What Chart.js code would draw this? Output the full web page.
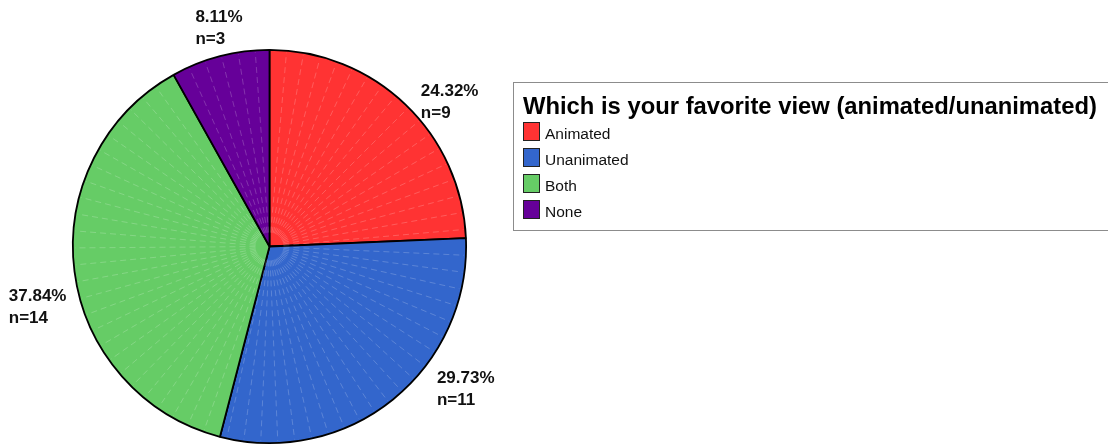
<!DOCTYPE html>
<html lang="en">
<head>
    <meta charset="UTF-8">
    <title>Which is your favorite view (animated/unanimated)</title>
    <script src="https://cdn.jsdelivr.net/npm/chart.js@4.4.0/dist/chart.umd.min.js"></script>
    <style>
        html, body { margin: 0; padding: 0; background: #fff; }
        #wrap { position: relative; width: 1108px; height: 446px; }
    </style>
</head>
<body>
    <div id="wrap"><canvas id="pieChart" width="1108" height="446"></canvas></div>
    <script>
        const legendTitle = 'Which is your favorite view (animated/unanimated)';
        const categories = ['Animated', 'Unanimated', 'Both', 'None'];
        const counts = [9, 11, 14, 3];
        const percentLabels = ['24.32%', '29.73%', '37.84%', '8.11%'];
        const sliceColors = ['#ff3333', '#3366cc', '#66cc66', '#660099'];

        // nudges for the value labels, relative to a point just outside each slice
        const labelNudge = [[-11, 19], [20, -46], [-28, 25], [-15, 3]];

        const FONT = '"Liberation Sans", Arial, sans-serif';

        // faint radial rays across each slice, every 5 degrees
        const rayPlugin = {
            id: 'rays',
            afterDatasetsDraw(chart) {
                const ctx = chart.ctx;
                const arcs = chart.getDatasetMeta(0).data;
                ctx.save();
                ctx.strokeStyle = 'rgba(255,255,255,0.2)';
                ctx.lineWidth = 1;
                ctx.setLineDash([6, 4]);
                arcs.forEach(arc => {
                    const { x, y, startAngle, endAngle, outerRadius } = arc.getProps(['x', 'y', 'startAngle', 'endAngle', 'outerRadius'], true);
                    const step = Math.PI / 36;
                    for (let a = startAngle + step; a < endAngle - step * 0.3; a += step) {
                        ctx.beginPath();
                        ctx.moveTo(x + Math.cos(a) * 14, y + Math.sin(a) * 14);
                        ctx.lineTo(x + Math.cos(a) * (outerRadius - 2), y + Math.sin(a) * (outerRadius - 2));
                        ctx.stroke();
                    }
                });
                ctx.restore();
            }
        };

        // percent / count labels outside the pie
        const valueLabelPlugin = {
            id: 'valueLabels',
            afterDraw(chart) {
                const ctx = chart.ctx;
                const arcs = chart.getDatasetMeta(0).data;
                ctx.save();
                ctx.fillStyle = '#111';
                ctx.font = 'bold 17px ' + FONT;
                ctx.textAlign = 'left';
                ctx.textBaseline = 'alphabetic';
                arcs.forEach((arc, i) => {
                    const { x, y, startAngle, endAngle, outerRadius } = arc.getProps(['x', 'y', 'startAngle', 'endAngle', 'outerRadius'], true);
                    const mid = (startAngle + endAngle) / 2;
                    const r = outerRadius + 38;
                    const lx = x + Math.cos(mid) * r + labelNudge[i][0];
                    const ly = y + Math.sin(mid) * r + labelNudge[i][1];
                    ctx.fillText(percentLabels[i], lx, ly);
                    ctx.fillText('n=' + counts[i], lx, ly + 22);
                });
                ctx.restore();
            }
        };

        // boxed legend with a bold title
        const boxLegendPlugin = {
            id: 'boxLegend',
            afterDraw(chart) {
                const ctx = chart.ctx;
                const ds = chart.data.datasets[0];
                ctx.save();
                ctx.strokeStyle = '#8c8c8c';
                ctx.lineWidth = 1;
                ctx.strokeRect(513.5, 82.5, 640, 148);

                ctx.fillStyle = '#000';
                ctx.font = 'bold 23.8px ' + FONT;
                ctx.textBaseline = 'alphabetic';
                ctx.fillText(legendTitle, 523, 114);

                ctx.font = '15.5px ' + FONT;
                chart.data.labels.forEach((label, i) => {
                    const top = 122 + i * 26;
                    ctx.fillStyle = ds.backgroundColor[i];
                    ctx.fillRect(523, top, 17, 19);
                    ctx.strokeStyle = '#222';
                    ctx.strokeRect(523.5, top + 0.5, 16, 18);
                    ctx.fillStyle = '#111';
                    ctx.fillText(label, 545, top + 17);
                });
                ctx.restore();
            }
        };

        new Chart(document.getElementById('pieChart'), {
            type: 'pie',
            data: {
                labels: categories,
                datasets: [{
                    data: counts,
                    backgroundColor: sliceColors,
                    borderColor: '#000',
                    borderWidth: 1.8
                }]
            },
            options: {
                responsive: false,
                animation: false,
                layout: { padding: { left: 72, right: 641, top: 49, bottom: 2 } },
                plugins: {
                    legend: { display: false },
                    tooltip: { enabled: false }
                }
            },
            plugins: [rayPlugin, valueLabelPlugin, boxLegendPlugin]
        });
    </script>
</body>
</html>
